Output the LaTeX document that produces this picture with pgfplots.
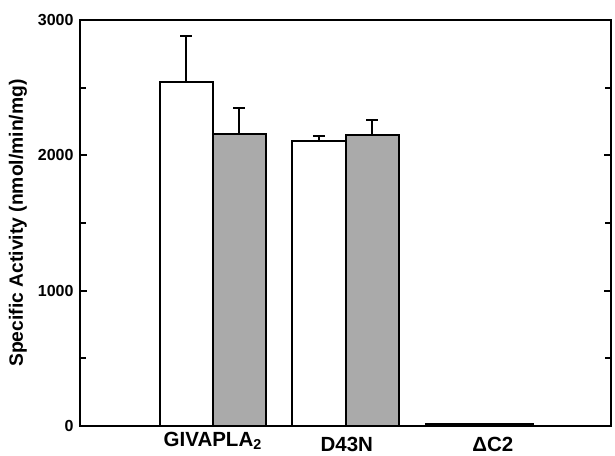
\documentclass[border=0pt]{standalone}
\usepackage{fontspec}
\setmainfont{Liberation Sans}
\usepackage{pgfplots}
\pgfplotsset{compat=1.18}
\definecolor{bargray}{RGB}{170,170,170}
\begin{document}
\begin{tikzpicture}
\begin{axis}[
  scale only axis,
  width=531pt, height=406pt,
  xmin=0, xmax=4, ymin=0, ymax=3000,
  axis line style={line width=1.5pt},
  xtick={1,2.01,3.11},
  xticklabels={\raisebox{5pt}{GIVAPLA\textsubscript{2}}, D43N, ΔC2},
  xtick style={draw=none},
  xticklabel style={font=\bfseries\fontsize{20.5}{23}\selectfont, anchor=base, inner sep=0pt, yshift=-25.5pt},
  ytick={0,1000,2000,3000},
  minor ytick={500,1500,2500},
  tick align=inside,
  ytick pos=both,
  major tick length=7pt,
  minor tick length=6pt,
  every tick/.append style={line width=1.8pt, black},
  every minor tick/.append style={line width=1.8pt, black},
  /pgf/number format/assume math mode=true,
  /pgf/number format/1000 sep={},
  yticklabel style={font=\bfseries\fontsize{16}{19}\selectfont, xshift=-3pt},
  ylabel={Specific Activity (nmol/min/mg)},
  ylabel style={font=\bfseries\fontsize{19.3}{22}\selectfont, at={(axis description cs:-0.117,0.5)}, anchor=center},
  clip=false,
  error bars/error bar style={line width=2pt, solid, black},
  error bars/error mark options={line width=2pt, rotate=90, mark size=6pt, black},
]
\addplot[ybar, bar width=0.4, fill=white, draw=black, line width=2pt,
  error bars/y dir=plus, error bars/y explicit]
  coordinates {(0.8,2542) +- (0,343) (1.8,2104) +- (0,39)};
\addplot[ybar, bar width=0.4, fill=bargray, draw=black, line width=2pt,
  error bars/y dir=plus, error bars/y explicit]
  coordinates {(1.2,2156) +- (0,197) (2.2,2149) +- (0,113)};
\addplot[ybar, bar width=0.4, fill=white, draw=black, line width=2pt]
  coordinates {(2.81,15)};
\addplot[ybar, bar width=0.4, fill=bargray, draw=black, line width=2pt]
  coordinates {(3.21,12)};
\end{axis}
\pgfresetboundingbox
\path[use as bounding box] ([shift={(-80pt,-29pt)}]current axis.south west) rectangle ([shift={(4pt,20pt)}]current axis.north east);
\end{tikzpicture}
\end{document}
